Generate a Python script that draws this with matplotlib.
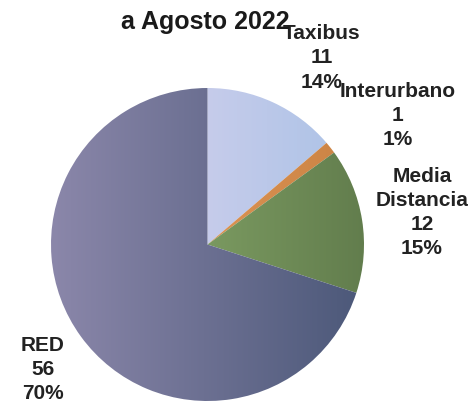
import numpy as np
import matplotlib.pyplot as plt
from matplotlib.colors import LinearSegmentedColormap

plt.rcParams['font.family'] = ['Liberation Sans', 'DejaVu Sans']

# viajes por tipo de servicio
labels = ['Taxibus', 'Interurbano', 'Media\nDistancia', 'RED']
values = [11, 1, 12, 56]
title = 'a Agosto 2022'

# horizontal gradient for each wedge: (left colour, right colour)
shades = [('#c6cceb', '#b0c4e7'),
          ('#db9353', '#cd8546'),
          ('#7a9960', '#627d4d'),
          ('#8b87aa', '#4d597a')]

# label anchors in units of the pie radius
label_xy = [(0.732, 1.192), (1.217, 0.824), (1.371, 0.204), (-1.054, -0.799)]

R_PX = 156.5
CX, CY = 207.5, 244.5
W, H = 476, 404

fig = plt.figure(figsize=(W / 100, H / 100), dpi=100)
ax = fig.add_axes([0, 0, 1, 1])

wedges, _ = ax.pie(values, startangle=90, counterclock=False,
                   wedgeprops=dict(linewidth=0))

for w, (c0, c1) in zip(wedges, shades):
    w.set_facecolor('none')
    bb = w.get_path().get_extents(w.get_patch_transform())
    cmap = LinearSegmentedColormap.from_list('g', [c0, c1])
    grad = np.linspace(0, 1, 256).reshape(1, -1)
    im = ax.imshow(grad, cmap=cmap, aspect='auto', interpolation='bilinear',
                   extent=(bb.x0, bb.x1, bb.y0, bb.y1), zorder=1)
    im.set_clip_path(w)

total = sum(values)
for lab, v, (x, y) in zip(labels, values, label_xy):
    ax.text(x, y, f'{lab}\n{v}\n{v / total * 100:.0f}%', ha='center', va='center',
            fontsize=15, fontweight='bold', color='#222222', linespacing=1.35,
            zorder=3)

ax.text((205 - CX) / R_PX, (CY - 29) / R_PX, title, ha='center', va='baseline',
        fontsize=18, fontweight='bold', color='#1a1a1a', zorder=3)

ax.set_xlim(-CX / R_PX, (W - CX) / R_PX)
ax.set_ylim(-(H - CY) / R_PX, CY / R_PX)
ax.axis('off')

fig.savefig('out.png', dpi=100)
